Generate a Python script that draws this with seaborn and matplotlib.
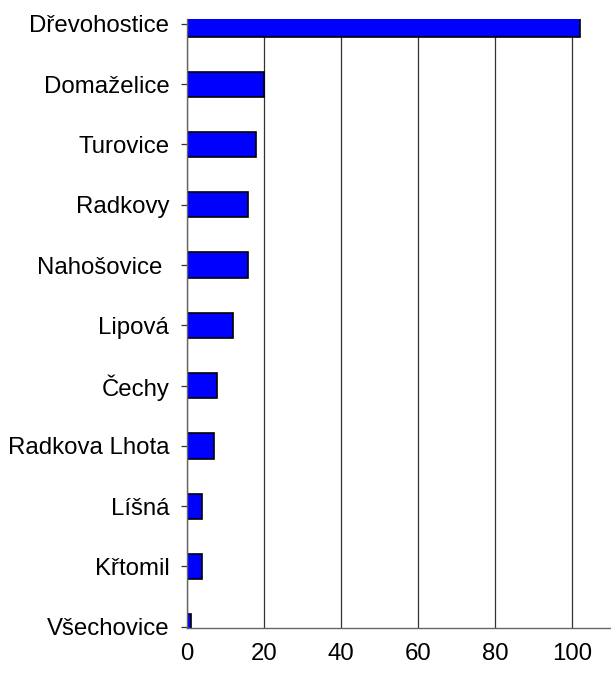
import matplotlib.pyplot as plt
import pandas as pd
import seaborn as sns

# Data
villages = ["Dřevohostice", "Domaželice", "Turovice", "Radkovy", "Nahošovice ",
            "Lipová", "Čechy", "Radkova Lhota", "Líšná", "Křtomil", "Všechovice"]
counts = [102, 20, 18, 16, 16, 12, 8, 7, 4, 4, 1]
x_ticks = [0, 20, 40, 60, 80, 100]


def main():
    df = pd.DataFrame({"village": villages, "count": counts})

    sns.set_theme(style="white")
    plt.rcParams["font.family"] = ["Liberation Sans", "DejaVu Sans"]

    fig = plt.figure(figsize=(6.11, 6.73), dpi=100)
    ax = fig.add_axes([0.3055, 0.0669, 0.694, 0.905])

    sns.barplot(data=df, x="count", y="village", orient="h", color="#0000FF",
                saturation=1, width=0.42, edgecolor="black", linewidth=1.2, ax=ax)

    ax.set_xlim(0, 110)
    ax.set_ylim(10.02, -0.083)
    ax.set_xticks(x_ticks)
    ax.set_xlabel("")
    ax.set_ylabel("")

    ax.set_axisbelow(True)
    ax.xaxis.grid(True, color="#333333", linewidth=0.9)
    ax.yaxis.grid(False)

    for side in ["top", "right"]:
        ax.spines[side].set_visible(False)
    for side in ["left", "bottom"]:
        ax.spines[side].set_color("#666666")
        ax.spines[side].set_linewidth(1.0)

    ax.tick_params(axis="y", left=True, length=4.5, width=0.9, color="#333333",
                   labelsize=17.3, pad=8, labelcolor="black")
    ax.tick_params(axis="x", bottom=False, labelsize=17.3, pad=5, labelcolor="black")

    fig.savefig("out.png", dpi=100)


if __name__ == '__main__':
    main()
